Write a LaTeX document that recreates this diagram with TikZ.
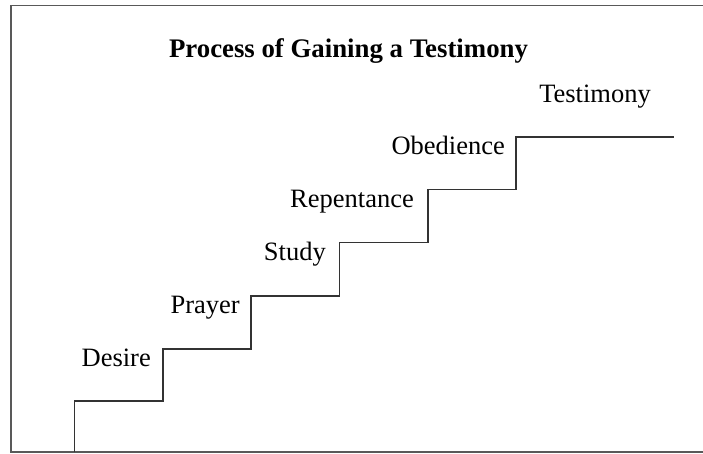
\documentclass[tikz,border=0pt]{standalone}
\usepackage{fontspec}
\setmainfont{Liberation Serif}
\usepackage{tikz}

\tikzset{
  frameline/.style={draw=black!65, line width=1.5pt},
  stairline/.style={draw=black!80, line width=1.2pt},
  stairtext/.style={inner sep=0pt, anchor=base east, font=\fontsize{26.5}{30}\selectfont},
}

\begin{document}
\begin{tikzpicture}[x=1pt,y=-1pt]
\useasboundingbox (0,0) rectangle (703,453);

\coordinate (frameTR) at (704,5.5);
\coordinate (frameTL) at (11,5.5);
\coordinate (frameBL) at (11,452);
\coordinate (frameBR) at (704,452);
\draw[frameline] (frameTR) -- (frameTL) -- (frameBL) -- (frameBR);

\node (title) at (348.5,57) [inner sep=0pt, anchor=base, font=\fontsize{26.8}{30}\selectfont\bfseries] {Process of Gaining a Testimony};

\coordinate (ground) at (74.5,452);
\coordinate (desireA) at (74.5,401);
\coordinate (desireB) at (163,401);
\coordinate (prayerA) at (163,349);
\coordinate (prayerB) at (251,349);
\coordinate (studyA) at (251,296);
\coordinate (studyB) at (339.5,296);
\coordinate (repentA) at (339.5,242.5);
\coordinate (repentB) at (428,242.5);
\coordinate (obeyA) at (428,189.5);
\coordinate (obeyB) at (516,189.5);
\coordinate (testA) at (516,137);
\coordinate (testB) at (674,137);

\draw[stairline] (ground) -- (desireA) -- (desireB) -- (prayerA) -- (prayerB) -- (studyA) -- (studyB)
  -- (repentA) -- (repentB) -- (obeyA) -- (obeyB) -- (testA) -- (testB);

\node (desire) at (151,366) [stairtext] {Desire};
\node (prayer) at (240,313) [stairtext] {Prayer};
\node (study) at (326,260) [stairtext] {Study};
\node (repentance) at (414,207) [stairtext] {Repentance};
\node (obedience) at (505,154) [stairtext] {Obedience};
\node (testimony) at (595,102) [stairtext, anchor=base] {Testimony};

\end{tikzpicture}
\end{document}
